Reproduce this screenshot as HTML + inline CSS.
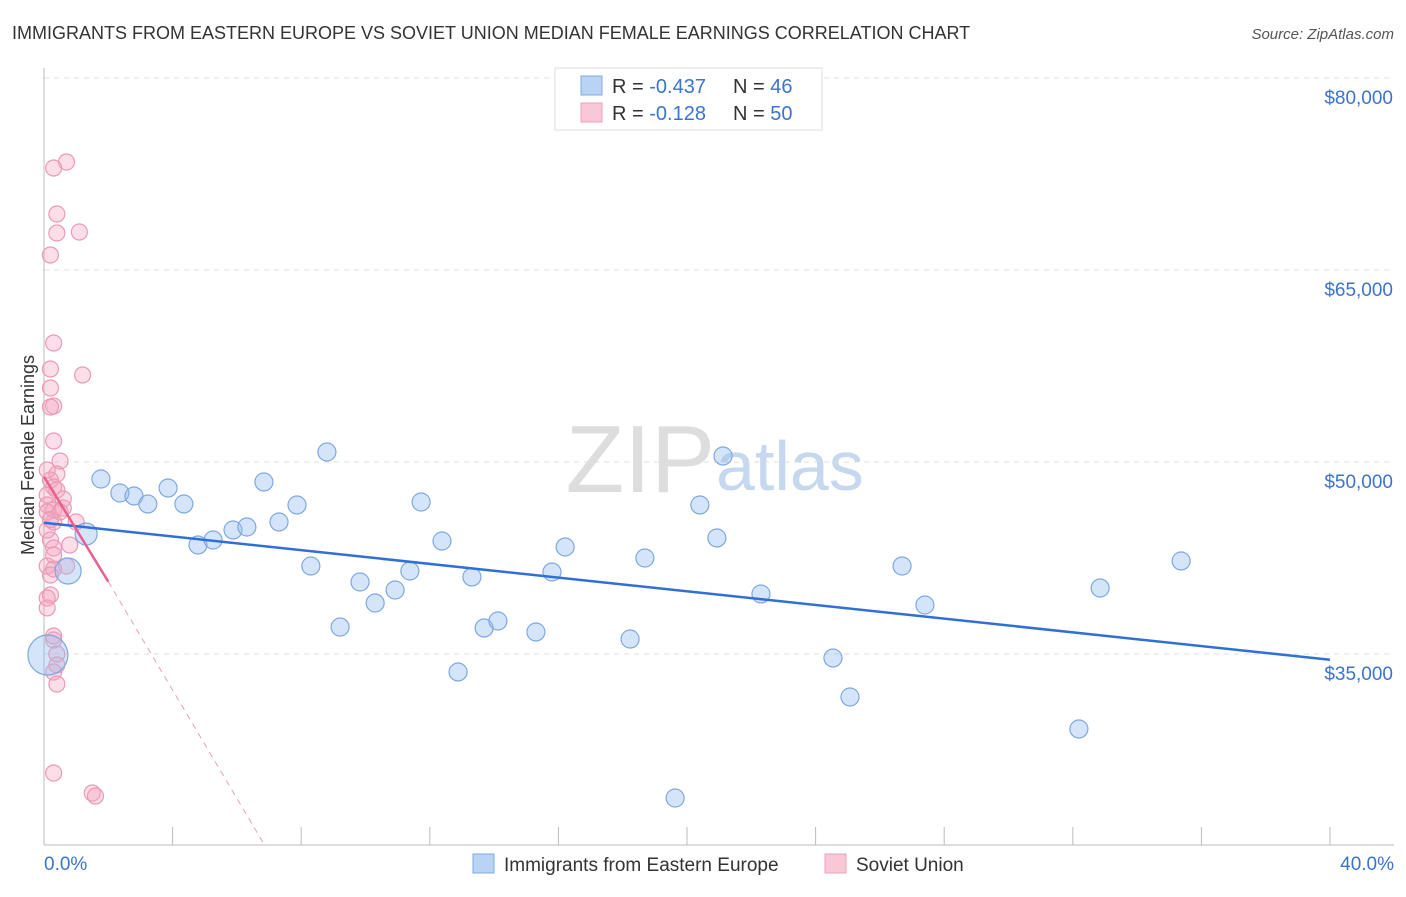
<!DOCTYPE html>
<html><head><meta charset="utf-8"><style>
body{margin:0;background:#fff;font-family:"Liberation Sans",sans-serif;}
svg text{font-family:"Liberation Sans",sans-serif;}
</style></head><body>
<svg id="chart" width="1406" height="892" xmlns="http://www.w3.org/2000/svg">
<text x="12" y="39" font-size="18" fill="#333">IMMIGRANTS FROM EASTERN EUROPE VS SOVIET UNION MEDIAN FEMALE EARNINGS CORRELATION CHART</text>
<text x="1394" y="39" font-size="15" fill="#555" text-anchor="end" font-style="italic">Source: ZipAtlas.com</text>
<text x="715" y="492" font-size="96" fill="#ddd" text-anchor="end" font-family="Liberation Serif">ZIP</text>
<text x="716" y="490" font-size="70" fill="#c6d8ef">atlas</text>
<g id="grid"></g><g id="axes"></g><g id="pts"></g><g id="trend"></g>
<text transform="translate(34,455) rotate(-90)" font-size="18" fill="#333" text-anchor="middle">Median Female Earnings</text>
<g>
<rect x="555" y="68" width="267" height="62" fill="#fff" stroke="#ddd"/>
<rect x="581" y="76" width="21" height="19" fill="#b9d3f5" stroke="#7fa9e3"/>
<rect x="581" y="103" width="21" height="19" fill="#f9c8d6" stroke="#eca0b8"/>
<text x="612" y="93" font-size="20" fill="#333">R =  <tspan fill="#3a74d0">-0.437</tspan></text>
<text x="733" y="93" font-size="20" fill="#333">N =  <tspan fill="#3a74d0">46</tspan></text>
<text x="612" y="120" font-size="20" fill="#333">R =   <tspan fill="#3a74d0">-0.128</tspan></text>
<text x="733" y="120" font-size="20" fill="#333">N =  <tspan fill="#3a74d0">50</tspan></text>
</g>
<g>
<rect x="473" y="854" width="21" height="19" fill="#b9d3f5" stroke="#7fa9e3"/>
<text x="504" y="871" font-size="19" fill="#333">Immigrants from Eastern Europe</text>
<rect x="825" y="854" width="21" height="19" fill="#f9c8d6" stroke="#eca0b8"/>
<text x="856" y="871" font-size="19" fill="#333">Soviet Union</text>
</g>
<text x="44" y="870" font-size="19" fill="#3a74d0">0.0%</text>
<text x="1394" y="870" font-size="19" fill="#3a74d0" text-anchor="end">40.0%</text>
</svg>
<script>
const yTicks=[80000,65000,50000,35000];
const yTickLabels=["$80,000","$65,000","$50,000","$35,000"];
const blueX=[1.77,2.36,2.8,3.23,3.86,4.35,4.79,5.26,5.88,6.31,6.84,7.31,7.87,8.3,8.8,9.21,9.83,10.3,10.92,11.38,11.73,12.38,12.88,13.31,13.69,14.12,15.3,15.8,16.21,18.23,18.69,19.63,20.4,20.93,21.12,22.3,24.54,25.07,26.69,27.4,32.19,32.85,35.37,1.31,0.75,0.12];
const blueY=[48672,47578,47344,46719,47969,46719,43516,43906,44688,44922,48438,45313,46641,41875,50781,37109,40625,38984,40000,41484,46875,43828,33594,41016,37031,37578,36719,41406,43359,36172,42500,23750,46641,44063,50469,39688,34688,31641,41875,38828,29141,40156,42266,44375,41484,34922];
const blueR=[9,9,9,9,9,9,9,9,9,9,9,9,9,9,9,9,9,9,9,9,9,9,9,9,9,9,9,9,9,9,9,9,9,9,9,9,9,9,9,9,9,9,9,11,13,20];
const pinkX=[0.3,0.7,0.4,0.4,1.1,0.2,0.3,0.2,1.2,0.2,0.3,0.2,0.3,0.5,0.4,0.2,0.3,0.1,0.6,0.1,0.3,0.6,1.0,0.3,0.2,0.3,0.1,0.3,0.7,0.2,0.1,0.3,0.3,0.4,0.3,0.4,0.3,1.5,1.6,0.1,0.1,0.3,0.1,0.4,0.2,0.8,0.2,0.5,0.1,0.4];
const pinkY=[72969,73438,69375,67891,67969,66172,59297,57266,56797,55781,54375,54297,51641,50078,49063,48594,48047,47422,47109,46641,46250,46406,45313,45313,43906,43281,41875,41641,41875,39609,39375,36406,36094,34141,33594,32656,25703,24141,23906,46094,44688,42734,49375,47813,41172,43516,45500,46100,38600,35000];
const X=v=>44+v*(1330-44)/40, Y=v=>78+(80000-v)*192/15000;
const NS="http://www.w3.org/2000/svg";
function mk(t,a,p){const e=document.createElementNS(NS,t);for(const k in a)e.setAttribute(k,a[k]);p.appendChild(e);return e;}
const grid=document.getElementById('grid'),axes=document.getElementById('axes'),pts=document.getElementById('pts'),tr=document.getElementById('trend');
yTicks.forEach((v,i)=>{
 const l=mk('line',{x1:44,x2:1394,y1:Y(v),y2:Y(v),stroke:'#ddd','stroke-dasharray':'5,5'},grid);
 
 
 const t=mk('text',{x:1393,y:Y(v)+26,'font-size':19,fill:'#3a74d0','text-anchor':'end'},grid);
 t.textContent=yTickLabels[i];
 
 
});
const ya=mk('line',{x1:44,x2:44,y1:68,y2:845,stroke:'#bbb'},axes);


const xa=mk('line',{x1:44,x2:1394,y1:845,y2:845,stroke:'#bbb'},axes);


for(let i=0;i<=10;i++){const t=mk('line',{x1:X(i*4),x2:X(i*4),y1:827,y2:845,stroke:'#bbb'},axes);
 
 }
pinkX.forEach((x,i)=>{const c=mk('circle',{cx:X(x),cy:Y(pinkY[i]),r:8,fill:'rgba(244,160,188,0.35)',stroke:'#eb9ab5','stroke-width':1.2},pts);
 
 });
blueX.forEach((x,i)=>{const c=mk('circle',{cx:X(x),cy:Y(blueY[i]),r:blueR[i],fill:'rgba(150,190,240,0.4)',stroke:'#7ea8e0','stroke-width':1.2},pts);
 
 });
const b=mk('line',{x1:X(0),y1:Y(45250),x2:X(40),y2:Y(34550),stroke:'#2f6fd6','stroke-width':2.5},tr);


const p1=mk('line',{x1:X(0),y1:Y(48850),x2:X(2),y2:Y(40650),stroke:'#e8608b','stroke-width':2.5},tr);


const p2=mk('line',{x1:X(2),y1:Y(40650),x2:X(6.86),y2:Y(20080),stroke:'#e8a0b8','stroke-width':1,'stroke-dasharray':'6,5'},tr);


</script>
</body></html>
